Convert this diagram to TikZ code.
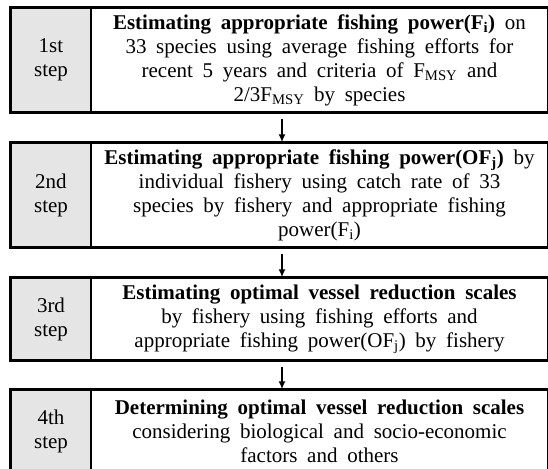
\documentclass[tikz,border=0pt]{standalone}
\usepackage{fontspec}
\setmainfont{Liberation Serif}[WordSpace={1.85,1.2,0.5}]
\usetikzlibrary{arrows.meta}
\tikzset{
  stepbox/.style={draw, line width=1.5pt, fill=black!10, minimum width=80pt, inner sep=0pt, align=center},
  taskbox/.style={draw, line width=1.5pt, fill=white, minimum width=457pt, text width=446pt, inner sep=0pt, align=flush center},
  frame/.style={line width=3pt},
  flow/.style={-{Latex[length=8pt,width=7pt]}, line width=1.5pt}
}
\begin{document}
\begin{tikzpicture}[x=1pt, y=-1pt, font=\fontsize{21}{24}\selectfont]
   \useasboundingbox (0,0) rectangle (548,468);
   %nodes
   \node[stepbox, minimum height=104pt] at (51,60) (s1) {1st\\step};
   \node[taskbox, minimum height=104pt] at (319.5,60) (t1) {\textbf{Estimating appropriate fishing power(F\textsubscript{i})} on\\
      33 species using average fishing efforts for\\
      recent 5 years and criteria of F\textsubscript{MSY} and\\
      2/3F\textsubscript{MSY} by species};
   \node[stepbox, minimum height=104pt] at (51,195) (s2) {2nd\\step};
   \node[taskbox, minimum height=104pt] at (319.5,195) (t2) {\textbf{Estimating appropriate fishing power(OF\textsubscript{j})} by\\
      individual fishery using catch rate of 33\\
      species by fishery and appropriate fishing\\
      power(F\textsubscript{i})};
   \node[stepbox, minimum height=82pt] at (51,319) (s3) {3rd\\step};
   \node[taskbox, minimum height=82pt] at (319.5,319) (t3) {\textbf{Estimating optimal vessel reduction scales}\\
      by fishery using fishing efforts and\\
      appropriate fishing power(OF\textsubscript{j}) by fishery};
   \node[stepbox, minimum height=82pt] at (51,431) (s4) {4th\\step};
   \node[taskbox, minimum height=82pt] at (319.5,431) (t4) {\textbf{Determining optimal vessel reduction scales}\\
      considering biological and socio-economic\\
      factors and others};
   %frames
   \foreach \n in {1,...,4}
      \draw[frame] (s\n.north west) rectangle (t\n.south east);
   %arrows
   \foreach \a/\b in {1/2, 2/3, 3/4}
      \draw[flow] ([xshift=-37.5pt, yshift=-6pt]t\a.south) -- ([xshift=-37.5pt]t\b.north);
\end{tikzpicture}
\end{document}
